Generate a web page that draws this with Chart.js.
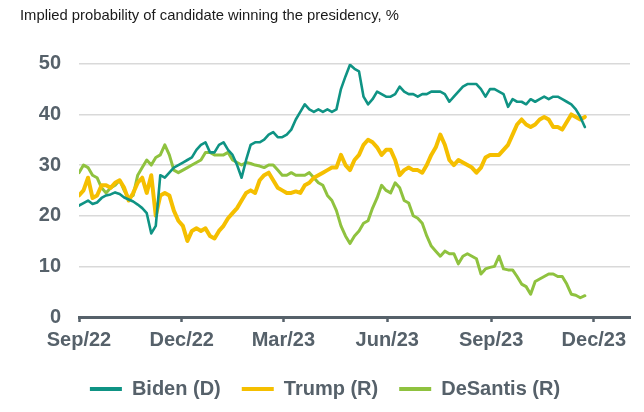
<!DOCTYPE html>
<html>
<head>
<meta charset="utf-8">
<script src="https://cdn.jsdelivr.net/npm/chart.js@4/dist/chart.umd.min.js"></script>
<style>
html,body{margin:0;padding:0;background:#fff;}
#wrap{width:644px;height:412px;position:relative;}
</style>
</head>
<body>
<div id="wrap"><canvas id="c"></canvas></div>
<script>
// Day offsets from 1 Sep 2022 for each sample
const sampleDays = [0,4,8,12,16,20,24,28,32,36,40,44,48,52,56,60,64,68,72,76,80,84,88,92,96,100,104,108,112,116,120,124,128,132,136,140,144,148,152,156,160,164,168,172,176,180,184,188,192,196,200,204,208,212,216,220,224,228,232,236,240,244,248,252,256,260,264,268,272,276,280,284,288,292,296,300,304,308,312,316,320,324,328,332,336,340,344,348,352,356,360,364,368,372,376,380,384,388,392,396,400,404,408,412,416,420,424,428,432,436,440,444,448];

const biden = [22,22.5,23,22.3,22.6,23.5,24,24.2,24.6,24.3,23.6,23.2,22.8,22.2,21.5,20.5,16.5,18,28,27.5,28.5,29.5,30,30.5,31,31.5,33,34,34.5,32.5,32.5,34,34.5,33,32,30,27.5,31,34,34.5,34.5,35,36,36.5,35.5,35.5,36,37,39,40.5,42,41,40.5,41,40.5,41,40.5,41,45,47.5,49.8,49,48.5,43.5,42,43,44.5,44,43.5,43.5,44,45.5,44.5,44,44,43.5,44,44,44.5,44.5,44.5,44,42.5,43.5,44.5,45.5,46,46,46,45,43.5,45,45,44.5,44,41.5,43,42.5,42.5,42,43,42.5,43,43.5,43,43.5,43.5,43,42.5,42,41,39.5,37.5];

const trump = [24,25,27.5,23.5,24,26,26,25.5,26.5,27,25.5,23,24.5,26.5,27.5,24.5,28,20,24,24.5,24,21,19,18,15,17,17.5,17,17.5,16,15.5,17,18,19.5,20.5,21.5,23,24.5,25,24.5,27,28,28.5,27,25.5,25,24.5,24.5,24.8,24.5,26,26.5,27.5,28,28.5,29,29.5,29.5,32,30,29,31,32,34,35,34.5,33.5,32,33,33,31,28,29,29.5,29,29,28.5,30,32,33.5,36,34,31,30,31,30.5,30,29.5,28.5,29.5,31.5,32,32,32,33,34,36,38,39,38,37.5,38,39,39.5,39,37.5,37.5,37,38.5,40,39.5,39,39.5];

const desantis = [28.5,30,29.5,28,27.5,25.5,24.5,25.5,26,27,25,23.5,24,28,29.5,31,30,31.5,32,34,32,29,28.5,29,29.5,30,30.5,31,32.5,32.5,32,32,32,32.5,31,30.5,30,30.5,30.3,30,29.8,29.5,30,30,29,28,28,28.5,28,28,28,28.5,27.5,26.5,26,24,23,21,18,16,14.5,16,17,18.5,19,21.5,23.5,26,25,24.5,26.5,25.5,23,22.5,20,19.5,18.5,16,14,13,12,13,12.5,12.5,10.5,12,12.5,12,11.5,8.5,9.5,9.8,10,12,9.5,9.3,9.3,8,6.5,6,4.5,7,7.5,8,8.5,8.5,8,8,6.5,4.5,4.3,3.8,4.2];

const tickDays = [0,91,181,273,365,456];
const tickLabels = ['Sep/22','Dec/22','Mar/23','Jun/23','Sep/23','Dec/23'];
const yTicks = [0,10,20,30,40,50];

const seriesNames = ['Biden (D)','Trump (R)','DeSantis (R)'];
const seriesColors = ['#0f9384','#f5bf00','#8fc23f'];
const seriesWidths = [2.6,4,3];
const seriesValues = [biden, trump, desantis];

const textCol = '#56616a';
Chart.defaults.font.family = "'Liberation Sans', Arial, sans-serif";

const datasets = seriesNames.map((n,i)=>({
  label:n,
  data: sampleDays.map((d,j)=>({x:d,y:seriesValues[i][j]})),
  borderColor: seriesColors[i],
  backgroundColor: seriesColors[i],
  borderWidth: seriesWidths[i],
  pointRadius:0,
  tension:0,
  fill:false,
  borderJoinStyle:'round',
  borderCapStyle:'round'
}));

new Chart(document.getElementById('c'),{
  type:'line',
  data:{datasets},
  options:{
    responsive:true,
    maintainAspectRatio:false,
    animation:false,
    devicePixelRatio:1,
    layout:{padding:{left:20,right:14,top:0,bottom:3}},
    plugins:{
      title:{
        display:true,
        text:'Implied probability of candidate winning the presidency, %',
        align:'start',
        color:'#1a1a1a',
        font:{size:14.8,weight:'normal'},
        padding:{top:7,bottom:39}
      },
      legend:{
        position:'bottom',
        labels:{
          color:textCol,
          font:{size:20,weight:'bold'},
          boxWidth:32,
          boxHeight:4,
          padding:21,
          generateLabels:(chart)=>Chart.defaults.plugins.legend.labels.generateLabels(chart).map(it=>({...it,lineWidth:0,fillStyle:it.strokeStyle}))
        }
      },
      tooltip:{enabled:false}
    },
    scales:{
      x:{
        type:'linear',
        min:0,
        max:488,
        afterBuildTicks:(s)=>{s.ticks = tickDays.map(v=>({value:v}));},
        ticks:{
          autoSkip:false,
          maxRotation:0,
          color:textCol,
          font:{size:20,weight:'bold'},
          padding:6,
          callback:(v)=>{const k=tickDays.indexOf(v);return k>=0?tickLabels[k]:'';}
        },
        grid:{display:true,drawOnChartArea:false,drawTicks:true,tickLength:5,tickColor:textCol,tickWidth:2.5},
        border:{display:true,color:textCol,width:3}
      },
      y:{
        min:0,
        max:50,
        afterBuildTicks:(s)=>{s.ticks = yTicks.map(v=>({value:v}));},
        afterFit:(s)=>{s.width=59;},
        ticks:{
          color:textCol,
          font:{size:20,weight:'bold'},
          padding:18
        },
        grid:{color:'#d9d9d9',lineWidth:1.5,drawTicks:false},
        border:{display:false}
      }
    }
  }
});
</script>
</body>
</html>
